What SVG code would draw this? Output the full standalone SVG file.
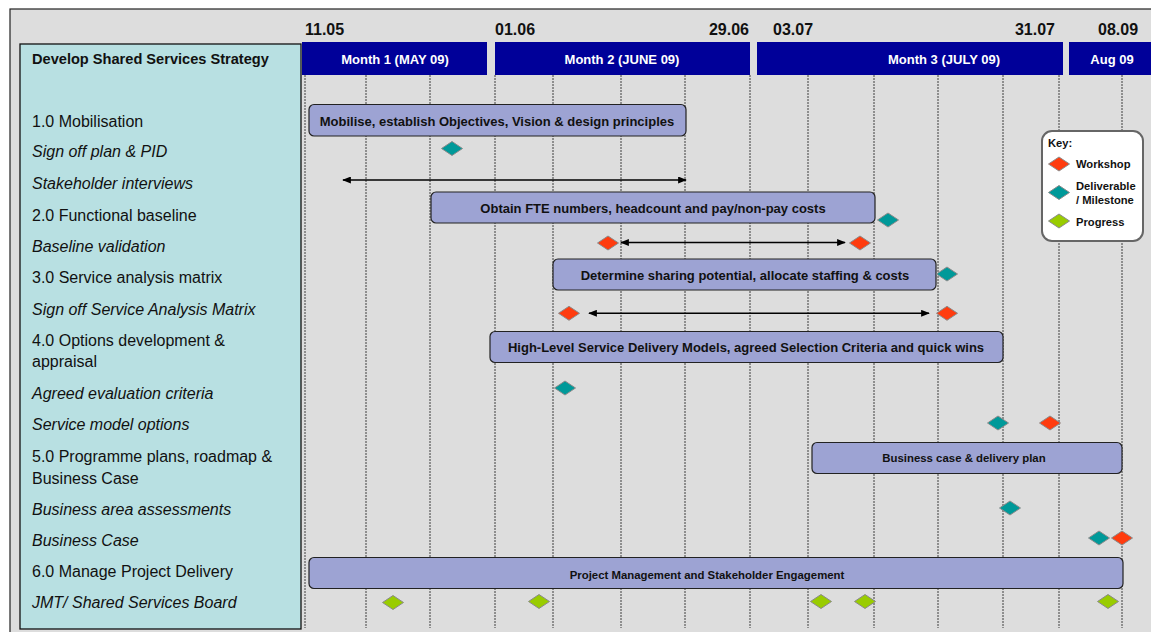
<svg xmlns="http://www.w3.org/2000/svg" width="1151" height="632" viewBox="0 0 1151 632">
<defs>
<style>
.row{font-family:"Liberation Sans",Arial,sans-serif;font-size:16px;fill:#111}
.it{font-style:italic}
.title{font-family:"Liberation Sans",Arial,sans-serif;font-size:14.6px;font-weight:bold;fill:#111}
.date{font-family:"Liberation Sans",Arial,sans-serif;font-size:16px;font-weight:bold;fill:#111}
.mon{fill:#000099}
.montxt{font-family:"Liberation Sans",Arial,sans-serif;font-size:13px;font-weight:bold;fill:#fff;text-anchor:middle}
.grid{stroke:#7a7a7a;stroke-width:1.6;stroke-dasharray:2 1}
.bar{fill:#9da3d3;stroke:#222;stroke-width:1.2}
.bartxt{font-family:"Liberation Sans",Arial,sans-serif;font-size:13px;font-weight:bold;fill:#111;text-anchor:middle}
.bartxt2{font-family:"Liberation Sans",Arial,sans-serif;font-size:11.4px;font-weight:bold;fill:#111;text-anchor:middle}
.red{fill:#ff3c0f;stroke:#8a8a8a;stroke-width:1}
.teal{fill:#009999;stroke:#8a8a8a;stroke-width:1}
.green{fill:#99cc00;stroke:#8a8a8a;stroke-width:1}
.arrow{stroke:#000;stroke-width:1.5;fill:none;marker-start:url(#ah);marker-end:url(#ah)}
.key{font-family:"Liberation Sans",Arial,sans-serif;font-size:11.2px;font-weight:bold;fill:#111}
</style>
<marker id="ah" viewBox="0 0 10 8" refX="9" refY="4" markerWidth="9" markerHeight="7" markerUnits="userSpaceOnUse" orient="auto-start-reverse">
<path d="M0,0 L10,4 L0,8 Z" fill="#000"/>
</marker>
<path id="dm" d="M-10.5,0 L0,-7 L10.5,0 L0,7 Z"/>
</defs>
<rect x="0" y="0" width="1151" height="632" fill="#fff"/>
<rect x="10" y="9" width="1145" height="630" fill="#dddddd" stroke="#222" stroke-width="1.2"/>

<g id="grid">
<line class="grid" x1="305" y1="75" x2="305" y2="628"/>
<line class="grid" x1="366" y1="75" x2="366" y2="628"/>
<line class="grid" x1="430" y1="75" x2="430" y2="628"/>
<line class="grid" x1="495" y1="75" x2="495" y2="628"/>
<line class="grid" x1="553" y1="75" x2="553" y2="628"/>
<line class="grid" x1="621" y1="75" x2="621" y2="628"/>
<line class="grid" x1="685" y1="75" x2="685" y2="628"/>
<line class="grid" x1="750" y1="75" x2="750" y2="628"/>
<line class="grid" x1="808" y1="75" x2="808" y2="628"/>
<line class="grid" x1="874" y1="75" x2="874" y2="628"/>
<line class="grid" x1="938" y1="75" x2="938" y2="628"/>
<line class="grid" x1="1003" y1="75" x2="1003" y2="628"/>
<line class="grid" x1="1059" y1="75" x2="1059" y2="628"/>
<line class="grid" x1="1122" y1="75" x2="1122" y2="628"/>
</g>

<g id="dates">
<text class="date" x="305" y="35">11.05</text>
<text class="date" x="495" y="35">01.06</text>
<text class="date" x="749" y="35" text-anchor="end">29.06</text>
<text class="date" x="773" y="35">03.07</text>
<text class="date" x="1055" y="35" text-anchor="end">31.07</text>
<text class="date" x="1098" y="35">08.09</text>
</g>

<g id="months">
<rect class="mon" x="302" y="42" width="185" height="33"/>
<text class="montxt" x="395" y="63.5">Month 1 (MAY 09)</text>
<rect class="mon" x="495" y="42" width="255" height="33"/>
<text class="montxt" x="622" y="63.5">Month 2 (JUNE 09)</text>
<rect class="mon" x="757" y="42" width="306" height="33"/>
<text class="montxt" x="944" y="63.5">Month 3 (JULY 09)</text>
<rect class="mon" x="1069" y="42" width="82" height="33"/>
<text class="montxt" x="1112" y="63.5">Aug 09</text>
</g>

<g id="tasks">
<rect x="20" y="44" width="281" height="585" fill="#b8e0e2" stroke="#111" stroke-width="1.3"/>
<text class="title" x="32" y="64">Develop Shared Services Strategy</text>
<text class="row" x="32" y="126.5">1.0 Mobilisation</text>
<text class="row it" x="32" y="157">Sign off plan &amp; PID</text>
<text class="row it" x="32" y="188.5">Stakeholder interviews</text>
<text class="row" x="32" y="220.5">2.0 Functional baseline</text>
<text class="row it" x="32" y="251.5">Baseline validation</text>
<text class="row" x="32" y="283">3.0 Service analysis matrix</text>
<text class="row it" x="32" y="314.5">Sign off Service Analysis Matrix</text>
<text class="row" x="32" y="345.5">4.0 Options development &amp;</text>
<text class="row" x="32" y="367">appraisal</text>
<text class="row it" x="32" y="398.5">Agreed evaluation criteria</text>
<text class="row it" x="32" y="430">Service model options</text>
<text class="row" x="32" y="461.5">5.0 Programme plans, roadmap &amp;</text>
<text class="row" x="32" y="483.5">Business Case</text>
<text class="row it" x="32" y="514.5">Business area assessments</text>
<text class="row it" x="32" y="545.5">Business Case</text>
<text class="row" x="32" y="577">6.0 Manage Project Delivery</text>
<text class="row it" x="32" y="608">JMT/ Shared Services Board</text>
</g>

<g id="bars">
<rect class="bar" x="309" y="104.5" width="377" height="31.5" rx="5"/>
<text class="bartxt" x="497" y="125.5">Mobilise, establish Objectives, Vision &amp; design principles</text>
<rect class="bar" x="431" y="192" width="444" height="31" rx="5"/>
<text class="bartxt" x="653" y="212.5">Obtain FTE numbers, headcount and pay/non-pay costs</text>
<rect class="bar" x="553" y="259" width="383" height="31" rx="5"/>
<text class="bartxt" x="745" y="279.5">Determine sharing potential, allocate staffing &amp; costs</text>
<rect class="bar" x="490" y="331.5" width="513" height="31" rx="5"/>
<text class="bartxt" x="746" y="352">High-Level Service Delivery Models, agreed Selection Criteria and quick wins</text>
<rect class="bar" x="812" y="442.5" width="310" height="31" rx="5"/>
<text class="bartxt2" x="964" y="462">Business case &amp; delivery plan</text>
<rect class="bar" x="309" y="557.5" width="814" height="31" rx="5"/>
<text class="bartxt2" x="707" y="579">Project Management and Stakeholder Engagement</text>
</g>

<g id="connectors">
<line class="arrow" x1="343" y1="180" x2="686" y2="180"/>
<line class="arrow" x1="621" y1="242.5" x2="845" y2="242.5"/>
<line class="arrow" x1="589" y1="313.3" x2="929" y2="313.3"/>
</g>

<g id="milestones">
<use href="#dm" class="teal" x="452" y="148.5"/>
<use href="#dm" class="teal" x="888" y="220"/>
<use href="#dm" class="red" x="608" y="243"/>
<use href="#dm" class="red" x="860" y="243"/>
<use href="#dm" class="teal" x="947" y="274"/>
<use href="#dm" class="red" x="569" y="313.3"/>
<use href="#dm" class="red" x="947" y="313.3"/>
<use href="#dm" class="teal" x="565" y="388"/>
<use href="#dm" class="teal" x="998" y="423"/>
<use href="#dm" class="red" x="1050" y="423"/>
<use href="#dm" class="teal" x="1010" y="508"/>
<use href="#dm" class="teal" x="1099" y="538"/>
<use href="#dm" class="red" x="1122" y="538"/>
<use href="#dm" class="green" x="393" y="602.5"/>
<use href="#dm" class="green" x="539" y="601.5"/>
<use href="#dm" class="green" x="821" y="601.5"/>
<use href="#dm" class="green" x="865" y="601.5"/>
<use href="#dm" class="green" x="1108" y="601.5"/>
</g>

<g id="key">
<rect x="1042" y="131" width="101" height="110" rx="10" fill="#fff" stroke="#666" stroke-width="2"/>
<text class="key" x="1048" y="147" font-size="10">Key:</text>
<use href="#dm" class="red" x="1059" y="164"/>
<text class="key" x="1076" y="168">Workshop</text>
<use href="#dm" class="teal" x="1059" y="192.5"/>
<text class="key" x="1076" y="190">Deliverable</text>
<text class="key" x="1076" y="203.5">/ Milestone</text>
<use href="#dm" class="green" x="1059" y="221"/>
<text class="key" x="1076" y="225.5">Progress</text>
</g>
</svg>
